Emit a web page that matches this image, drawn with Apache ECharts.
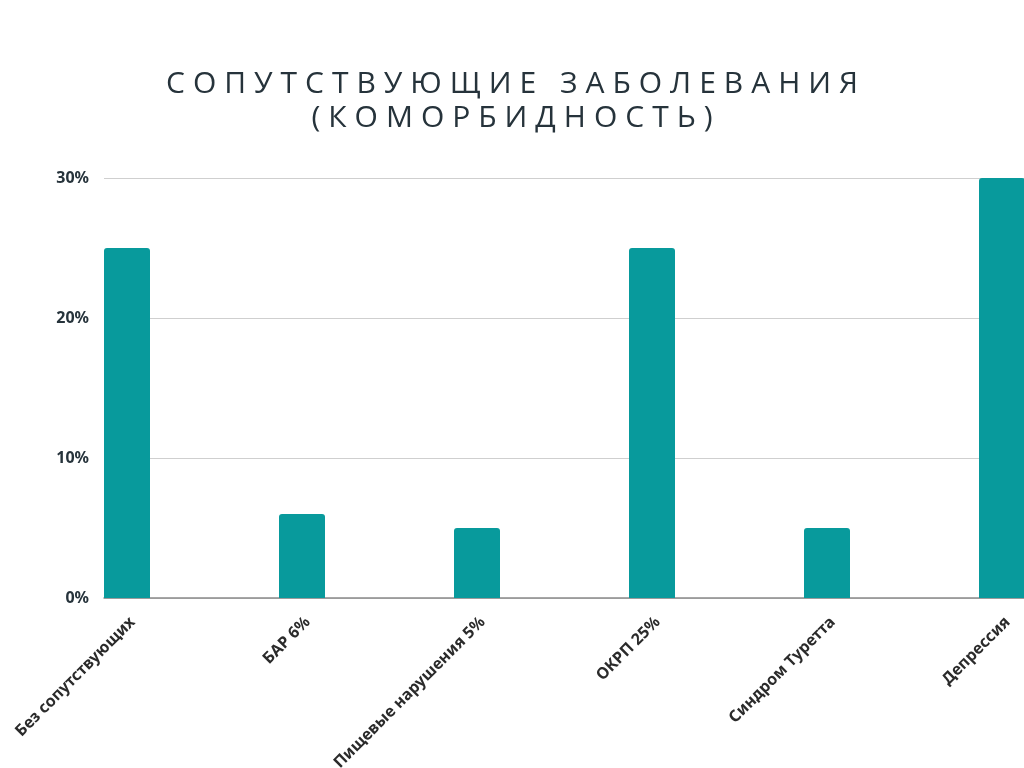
<!DOCTYPE html>
<html lang="ru">
  <head>
    <meta charset="UTF-8" />
    <title>Сопутствующие заболевания</title>
    <script src="https://cdn.jsdelivr.net/npm/echarts@6/dist/echarts.min.js"></script>
    <style>
      html, body { margin: 0; padding: 0; background: #fff; }
      #main { width: 1024px; height: 768px; }
    </style>
  </head>
  <body>
    <div id="main"></div>

    <script>
      const titleLines = ['СОПУТСТВУЮЩИЕ ЗАБОЛЕВАНИЯ', '(КОМОРБИДНОСТЬ)'];
      const categories = [
        'Без сопутствующих',
        'БАР 6%',
        'Пищевые нарушения 5%',
        'ОКРП 25%',
        'Синдром Туретта',
        'Депрессия'
      ];
      const values = [25, 6, 5, 25, 5, 30];
      const yTicks = [0, 10, 20, 30];

      // spread letters apart, the title is set wide in the original
      function spaced(s) {
        return s.split(' ')
          .map(w => w.split('').join('\u2009\u200A'))
          .join('\u2009\u200A \u2009\u200A');
      }

      const textColor = '#26333b';
      const barColor = '#089a9c';

      var myChart = echarts.init(document.getElementById('main'));

      myChart.setOption({
        animation: false,
        title: {
          text: titleLines.map(spaced).join('\n'),
          left: 'center',
          top: 62,
          textStyle: {
            fontFamily: 'Open Sans',
            fontWeight: 'normal',
            fontSize: 30,
            lineHeight: 34,
            color: textColor
          }
        },
        grid: [
          // axis, grid lines and y labels
          { left: 104, right: 0, top: 178, bottom: 170 },
          // bars and x labels (bands run past the right edge)
          { left: 39.5, width: 1050, top: 178, bottom: 170, outerBoundsMode: 'none' }
        ],
        xAxis: [
          {
            gridIndex: 0,
            type: 'category',
            data: categories,
            axisLine: { lineStyle: { color: '#8a8a8a', width: 1.5 } },
            axisTick: { show: false },
            axisLabel: { show: false }
          },
          {
            gridIndex: 1,
            type: 'category',
            data: categories,
            axisLine: { show: false },
            axisTick: { show: false },
            axisLabel: {
              rotate: 45,
              margin: 16,
              interval: 0,
              verticalAlign: 'top',
              fontFamily: 'Noto Sans',
              fontWeight: 'bold',
              fontSize: 16,
              color: '#2b2b2b'
            }
          }
        ],
        yAxis: [
          {
            gridIndex: 0,
            type: 'value',
            min: yTicks[0],
            max: yTicks[yTicks.length - 1],
            interval: yTicks[1] - yTicks[0],
            axisLine: { show: false },
            axisTick: { show: false },
            splitLine: { lineStyle: { color: '#cfcfcf', width: 1 } },
            axisLabel: {
              margin: 15,
              formatter: '{value}%',
              fontFamily: 'Noto Sans',
              fontWeight: 'bold',
              fontSize: 16,
              color: textColor
            }
          },
          {
            gridIndex: 1,
            type: 'value',
            min: yTicks[0],
            max: yTicks[yTicks.length - 1],
            show: false
          }
        ],
        series: [
          {
            type: 'bar',
            xAxisIndex: 1,
            yAxisIndex: 1,
            data: values,
            barWidth: 46,
            itemStyle: { color: barColor, borderRadius: [3, 3, 0, 0] }
          }
        ]
      });

      window.onresize = function () {
        myChart.resize();
      };
    </script>
  </body>
</html>
